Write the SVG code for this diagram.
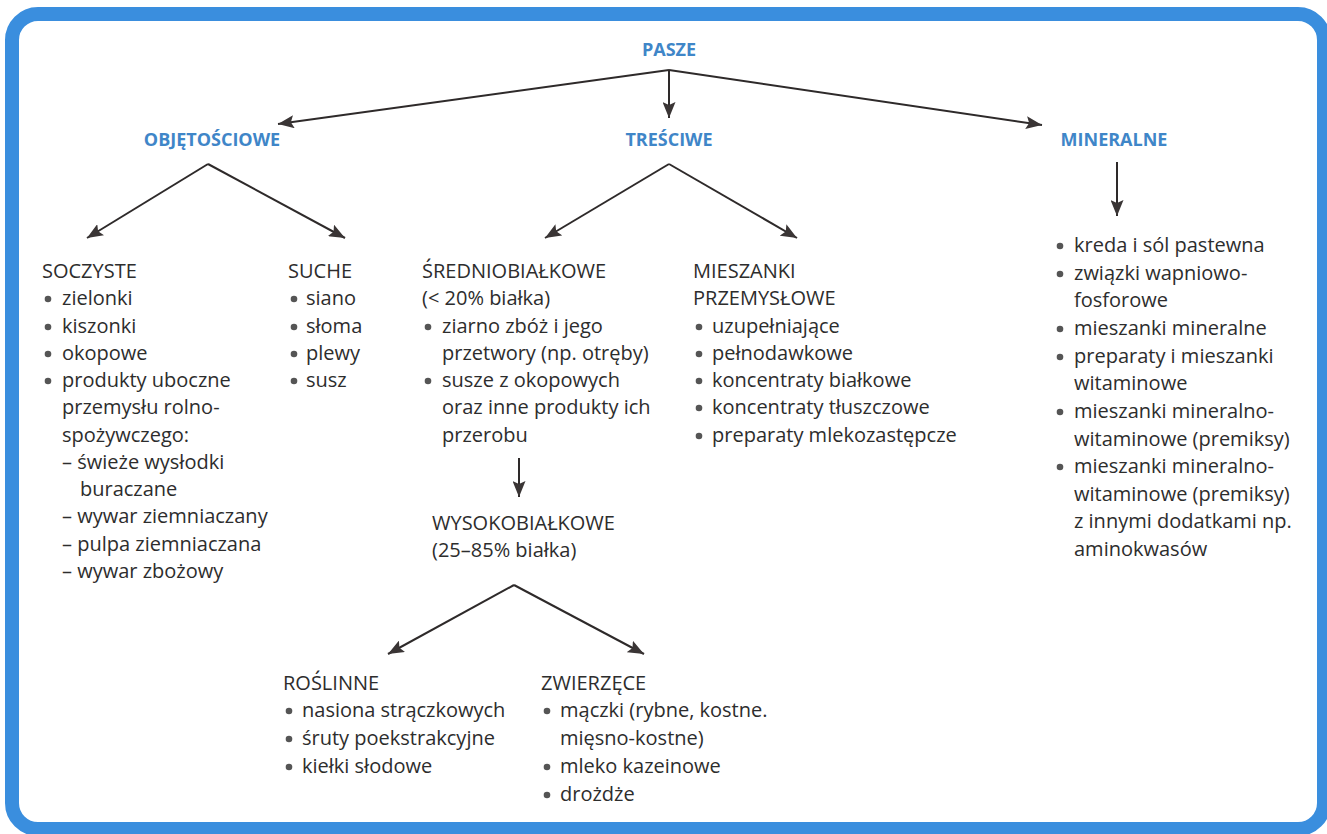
<svg xmlns="http://www.w3.org/2000/svg" width="1327" height="834" viewBox="0 0 1327 834">
<style>
.t{font-family:"Open Sans","Liberation Sans",sans-serif;font-size:20px;fill:#2d2d2d}
.h{font-family:"Open Sans","Liberation Sans",sans-serif;font-size:18px;font-weight:bold;fill:#3f86c8;text-anchor:middle}
.b{fill:#555}
.c{stroke:#2e2a2a;stroke-width:2;fill:none}
</style>
<defs>
<marker id="ah" markerUnits="userSpaceOnUse" markerWidth="16" markerHeight="13" viewBox="0 0 16 13" refX="16" refY="6.5" orient="auto">
<path d="M0,0 L16,6.5 L0,13 L3,6.5 z" fill="#3a3535"/>
</marker>
</defs>
<rect x="0" y="0" width="1327" height="834" fill="#fff"/>
<rect x="12" y="14" width="1312" height="815" rx="26" fill="#fff" stroke="#3a8ede" stroke-width="14"/>

<g id="connectors">
<line class="c" x1="669" y1="70" x2="278" y2="124" marker-end="url(#ah)"/>
<line class="c" x1="669" y1="70" x2="669" y2="118" marker-end="url(#ah)"/>
<line class="c" x1="669" y1="70" x2="1042" y2="125" marker-end="url(#ah)"/>
<line class="c" x1="208" y1="164" x2="87" y2="238" marker-end="url(#ah)"/>
<line class="c" x1="208" y1="164" x2="345" y2="238" marker-end="url(#ah)"/>
<line class="c" x1="669" y1="164" x2="545" y2="238" marker-end="url(#ah)"/>
<line class="c" x1="669" y1="164" x2="797" y2="238" marker-end="url(#ah)"/>
<line class="c" x1="1117" y1="162" x2="1117" y2="216" marker-end="url(#ah)"/>
<line class="c" x1="519" y1="458" x2="519" y2="497" marker-end="url(#ah)"/>
<line class="c" x1="514" y1="585" x2="388" y2="654" marker-end="url(#ah)"/>
<line class="c" x1="514" y1="585" x2="644" y2="654" marker-end="url(#ah)"/>
</g>

<g id="pasze"><text class="h" x="669" y="56">PASZE</text></g>
<g id="objetosciowe"><text class="h" x="212" y="146">OBJĘTOŚCIOWE</text></g>
<g id="tresciwe"><text class="h" x="669" y="146">TREŚCIWE</text></g>
<g id="mineralne"><text class="h" x="1114" y="146">MINERALNE</text></g>

<g id="soczyste">
<text class="t" x="42" y="278">SOCZYSTE</text>
<circle class="b" cx="48" cy="299" r="3.3"/><text class="t" x="62" y="305">zielonki</text>
<circle class="b" cx="48" cy="327" r="3.3"/><text class="t" x="62" y="333">kiszonki</text>
<circle class="b" cx="48" cy="354" r="3.3"/><text class="t" x="62" y="360">okopowe</text>
<circle class="b" cx="48" cy="381" r="3.3"/><text class="t" x="62" y="387">produkty uboczne</text>
<text class="t" x="62" y="414">przemysłu rolno-</text>
<text class="t" x="62" y="442">spożywczego:</text>
<text class="t" x="62" y="469">– świeże wysłodki</text>
<text class="t" x="80" y="496">buraczane</text>
<text class="t" x="62" y="523">– wywar ziemniaczany</text>
<text class="t" x="62" y="551">– pulpa ziemniaczana</text>
<text class="t" x="62" y="578">– wywar zbożowy</text>
</g>

<g id="suche">
<text class="t" x="288" y="278">SUCHE</text>
<circle class="b" cx="294" cy="299" r="3.3"/><text class="t" x="306" y="305">siano</text>
<circle class="b" cx="294" cy="327" r="3.3"/><text class="t" x="306" y="333">słoma</text>
<circle class="b" cx="294" cy="354" r="3.3"/><text class="t" x="306" y="360">plewy</text>
<circle class="b" cx="294" cy="381" r="3.3"/><text class="t" x="306" y="387">susz</text>
</g>

<g id="sredniobialkowe">
<text class="t" x="422" y="278">ŚREDNIOBIAŁKOWE</text>
<text class="t" x="422" y="305">(&lt; 20% białka)</text>
<circle class="b" cx="428" cy="327" r="3.3"/><text class="t" x="442" y="333">ziarno zbóż i jego</text>
<text class="t" x="442" y="360">przetwory (np. otręby)</text>
<circle class="b" cx="428" cy="381" r="3.3"/><text class="t" x="442" y="387">susze z okopowych</text>
<text class="t" x="442" y="414">oraz inne produkty ich</text>
<text class="t" x="442" y="442">przerobu</text>
</g>

<g id="mieszanki">
<text class="t" x="693" y="278">MIESZANKI</text>
<text class="t" x="693" y="305">PRZEMYSŁOWE</text>
<circle class="b" cx="699" cy="327" r="3.3"/><text class="t" x="712" y="333">uzupełniające</text>
<circle class="b" cx="699" cy="354" r="3.3"/><text class="t" x="712" y="360">pełnodawkowe</text>
<circle class="b" cx="699" cy="381" r="3.3"/><text class="t" x="712" y="387">koncentraty białkowe</text>
<circle class="b" cx="699" cy="408" r="3.3"/><text class="t" x="712" y="414">koncentraty tłuszczowe</text>
<circle class="b" cx="699" cy="436" r="3.3"/><text class="t" x="712" y="442">preparaty mlekozastępcze</text>
</g>

<g id="mineralne-lista">
<circle class="b" cx="1060" cy="246" r="3.3"/><text class="t" x="1074" y="252">kreda i sól pastewna</text>
<circle class="b" cx="1060" cy="274" r="3.3"/><text class="t" x="1074" y="280">związki wapniowo-</text>
<text class="t" x="1074" y="307">fosforowe</text>
<circle class="b" cx="1060" cy="329" r="3.3"/><text class="t" x="1074" y="335">mieszanki mineralne</text>
<circle class="b" cx="1060" cy="357" r="3.3"/><text class="t" x="1074" y="363">preparaty i mieszanki</text>
<text class="t" x="1074" y="390">witaminowe</text>
<circle class="b" cx="1060" cy="412" r="3.3"/><text class="t" x="1074" y="418">mieszanki mineralno-</text>
<text class="t" x="1074" y="446">witaminowe (premiksy)</text>
<circle class="b" cx="1060" cy="467" r="3.3"/><text class="t" x="1074" y="473">mieszanki mineralno-</text>
<text class="t" x="1074" y="501">witaminowe (premiksy)</text>
<text class="t" x="1074" y="528">z innymi dodatkami np.</text>
<text class="t" x="1074" y="556">aminokwasów</text>
</g>

<g id="wysokobialkowe">
<text class="t" x="432" y="530">WYSOKOBIAŁKOWE</text>
<text class="t" x="432" y="557">(25–85% białka)</text>
</g>

<g id="roslinne">
<text class="t" x="283" y="690">ROŚLINNE</text>
<circle class="b" cx="289" cy="711" r="3.3"/><text class="t" x="302" y="717">nasiona strączkowych</text>
<circle class="b" cx="289" cy="739" r="3.3"/><text class="t" x="302" y="745">śruty poekstrakcyjne</text>
<circle class="b" cx="289" cy="767" r="3.3"/><text class="t" x="302" y="773">kiełki słodowe</text>
</g>

<g id="zwierzece">
<text class="t" x="541" y="690">ZWIERZĘCE</text>
<circle class="b" cx="547" cy="711" r="3.3"/><text class="t" x="560" y="717">mączki (rybne, kostne.</text>
<text class="t" x="560" y="745">mięsno-kostne)</text>
<circle class="b" cx="547" cy="767" r="3.3"/><text class="t" x="560" y="773">mleko kazeinowe</text>
<circle class="b" cx="547" cy="795" r="3.3"/><text class="t" x="560" y="801">drożdże</text>
</g>
</svg>
